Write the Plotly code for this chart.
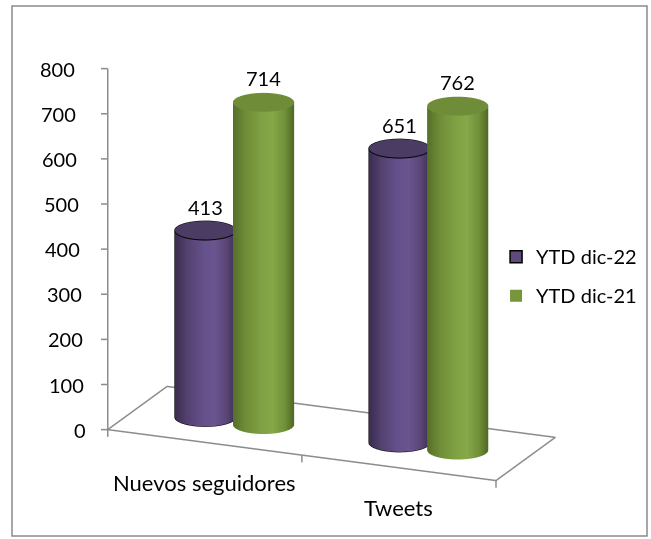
import numpy as np
import plotly.graph_objects as go

# ---------------- data ----------------
categories = ["Nuevos seguidores", "Tweets"]
series_names = ["YTD dic-22", "YTD dic-21"]
ytd_dic22 = [413, 651]
ytd_dic21 = [714, 762]
value_ticks = [0, 100, 200, 300, 400, 500, 600, 700, 800]

# ---------------- style ----------------
FONT = "Lato"
NUM_SIZE = 20
TXT_SIZE = 22
AXIS_GRAY = "#8c8c8c"
purple_side = [[0.0, "#3a2c4e"], [0.2, "#54416f"], [0.45, "#64508a"],
               [0.65, "#6a5590"], [0.85, "#5a4676"], [1.0, "#3e2f54"]]
green_side = [[0.0, "#56702a"], [0.2, "#6f8c37"], [0.45, "#7fa043"],
              [0.65, "#86a848"], [0.85, "#71903a"], [1.0, "#4f6824"]]
purple_top = "#4b3c64"
green_top = "#6f8d39"
legend_purple = "#5f4a7e"
legend_green = "#77963c"

# floor extent (data units) and slightly padded axis ranges (avoid edge clipping)
floor_x = [-0.5, len(categories) - 0.5]
floor_y = [0.0, 1.0]
PAD = 0.03
x_range = [floor_x[0] - PAD, floor_x[1] + PAD]
y_range = [floor_y[0] - PAD, floor_y[1] + PAD]
z_range = [-40, 800]
ZOOM = 1.61
aspect = dict(x=1.0 * ZOOM * (x_range[1] - x_range[0]) / (floor_x[1] - floor_x[0]),
              y=0.36 * ZOOM * (y_range[1] - y_range[0]) / (floor_y[1] - floor_y[0]),
              z=0.9 * 840 / 800 * ZOOM)
offset = 0.15        # half distance between the two cylinders (x units)
radius_x = 0.145     # cylinder radius in x data units
depth = 0.5          # cylinder position on depth axis

sx = aspect["x"] / (x_range[1] - x_range[0])
sy = aspect["y"] / (y_range[1] - y_range[0])

# orthographic camera
D = 2.0
elev = np.radians(18)
az = np.radians(23)
q, p = np.sin(az), np.cos(az)
pan = -0.023  # small horizontal pan (world units along screen-right)
center = dict(x=pan * p, y=pan * q, z=0)
eye = dict(x=center["x"] + D * np.cos(elev) * q,
           y=center["y"] - D * np.cos(elev) * p,
           z=D * np.sin(elev))

radius_y = radius_x * sx / sy
right = np.array([p, q])            # screen-right direction (world)
toward_eye = np.array([q, -p])

theta = np.linspace(0, 2 * np.pi, 121)
ct, st = np.cos(theta), np.sin(theta)
shade = ct * right[0] + st * right[1]

fig = go.Figure()
nolight = dict(ambient=1, diffuse=0, specular=0, fresnel=0, roughness=1)


def cylinder(cx, cy, value, side_scale, top_color, outline):
    xs = cx + radius_x * ct
    ys = cy + radius_y * st
    X = np.vstack([xs, xs])
    Y = np.vstack([ys, ys])
    Z = np.vstack([np.zeros_like(xs), np.full_like(xs, value)])
    C = np.vstack([shade, shade])
    fig.add_trace(go.Surface(x=X, y=Y, z=Z, surfacecolor=C, colorscale=side_scale,
                             cmin=-1, cmax=1, showscale=False, lighting=nolight,
                             hoverinfo="skip", showlegend=False))
    rr = np.array([0.0, 1.0])[:, None]
    TX = cx + rr * radius_x * ct[None, :]
    TY = cy + rr * radius_y * st[None, :]
    TZ = np.full_like(TX, value)
    fig.add_trace(go.Surface(x=TX, y=TY, z=TZ, surfacecolor=np.zeros_like(TX),
                             colorscale=[[0, top_color], [1, top_color]],
                             showscale=False, lighting=nolight, hoverinfo="skip",
                             showlegend=False))
    if outline:
        fig.add_trace(go.Scatter3d(x=xs, y=ys, z=np.full_like(xs, value), mode="lines",
                                   line=dict(color="black", width=2), hoverinfo="skip",
                                   showlegend=False))
        front = (ct * toward_eye[0] + st * toward_eye[1]) >= 0
        bx = np.where(front, xs, np.nan)
        by = np.where(front, ys, np.nan)
        fig.add_trace(go.Scatter3d(x=bx, y=by, z=np.zeros_like(xs), mode="lines",
                                   line=dict(color="black", width=2), hoverinfo="skip",
                                   showlegend=False, connectgaps=False))
        for sgn in (-1, 1):
            px_ = cx + sgn * radius_x * right[0]
            py_ = cy + sgn * radius_y * right[1]
            fig.add_trace(go.Scatter3d(x=[px_, px_], y=[py_, py_], z=[0, value],
                                       mode="lines", line=dict(color="#222222", width=2),
                                       hoverinfo="skip", showlegend=False))


series = [(ytd_dic22, -offset, purple_side, purple_top, True),
          (ytd_dic21, offset, green_side, green_top, False)]
annotations = []
for values, dx, sc, tc, ol in series:
    for i, v in enumerate(values):
        cylinder(i + dx, depth, v, sc, tc, ol)
        annotations.append(dict(x=i + dx, y=depth, z=v, text=str(v), showarrow=False,
                                yanchor="bottom", yshift=10,
                                font=dict(family=FONT, size=NUM_SIZE, color="black")))

for i, c in enumerate(categories):
    annotations.append(dict(x=i, y=floor_y[0], z=0, text=c, showarrow=False,
                            yanchor="middle", yshift=-40,
                            font=dict(family=FONT, size=TXT_SIZE, color="black")))

# value axis labels (slight outward lean toward the top, as in the original)
for t in value_ticks:
    lean = t / value_ticks[-1]
    annotations.append(dict(x=floor_x[0], y=floor_y[0], z=t, text=str(t), showarrow=False,
                            xanchor="right", xshift=-20 - 11 * lean,
                            font=dict(family=FONT, size=NUM_SIZE, color="black")))

# floor outline, value axis line and tick marks
tick_w = 0.02 * ZOOM  # tick length in world units
tdx = -right[0] * tick_w / sx
tdy = -right[1] * tick_w / sy
lx, ly, lz = [], [], []
lx += [floor_x[0], floor_x[1], floor_x[1], floor_x[0], floor_x[0], None]
ly += [floor_y[0], floor_y[0], floor_y[1], floor_y[1], floor_y[0], None]
lz += [0, 0, 0, 0, 0, None]
lx += [floor_x[0], floor_x[0], None]
ly += [floor_y[0], floor_y[0], None]
lz += [0, value_ticks[-1], None]
for t in value_ticks:
    lx += [floor_x[0], floor_x[0] + tdx, None]
    ly += [floor_y[0], floor_y[0] + tdy, None]
    lz += [t, t, None]
for xb in [floor_x[0], 0.5, floor_x[1]]:
    lx += [xb, xb, None]
    ly += [floor_y[0], floor_y[0], None]
    lz += [0, -16, None]
fig.add_trace(go.Scatter3d(x=lx, y=ly, z=lz, mode="lines", connectgaps=False,
                           line=dict(color=AXIS_GRAY, width=3), hoverinfo="skip",
                           showlegend=False))

# legend entries
for name, col, lw in [(series_names[0], legend_purple, 1.5), (series_names[1], legend_green, 0)]:
    fig.add_trace(go.Bar(x=[None], y=[None], name=name, legendgroup=name,
                         marker=dict(color=col, line=dict(color="black", width=lw)),
                         xaxis="x", yaxis="y"))

hidden = dict(showbackground=False, showgrid=False, zeroline=False, showspikes=False,
              showticklabels=False, ticks="", showline=False, title=dict(text=""))
fig.update_layout(
    width=651, height=539,
    margin=dict(l=0, r=0, t=0, b=0),
    paper_bgcolor="white", plot_bgcolor="rgba(0,0,0,0)",
    font=dict(family=FONT, size=NUM_SIZE, color="black"),
    hovermode=False,
    scene=dict(
        domain=dict(x=[0, 1], y=[1 - 524 / 539, 1]),
        aspectmode="manual", aspectratio=aspect,
        camera=dict(eye=eye, center=center, up=dict(x=0, y=0, z=1),
                    projection=dict(type="orthographic")),
        xaxis=dict(range=x_range, **hidden),
        yaxis=dict(range=y_range, **hidden),
        zaxis=dict(range=z_range, **hidden),
        annotations=annotations,
        bgcolor="rgba(0,0,0,0)",
    ),
    xaxis=dict(visible=False, domain=[0, 0.01]),
    yaxis=dict(visible=False, domain=[0, 0.01]),
    legend=dict(x=0.762, y=0.560, xanchor="left", yanchor="top",
                font=dict(family=FONT, size=NUM_SIZE, color="black"),
                bgcolor="rgba(0,0,0,0)", tracegroupgap=10, itemwidth=30),
    shapes=[dict(type="rect", xref="paper", yref="paper",
                 x0=12 / 651, x1=647 / 651, y0=1 - 536 / 539, y1=1 - 6 / 539,
                 line=dict(color="#8a8a8a", width=1.5))],
)

fig.write_html("out.html", config={"displayModeBar": False},
               post_script="document.body.style.margin='0px';")
